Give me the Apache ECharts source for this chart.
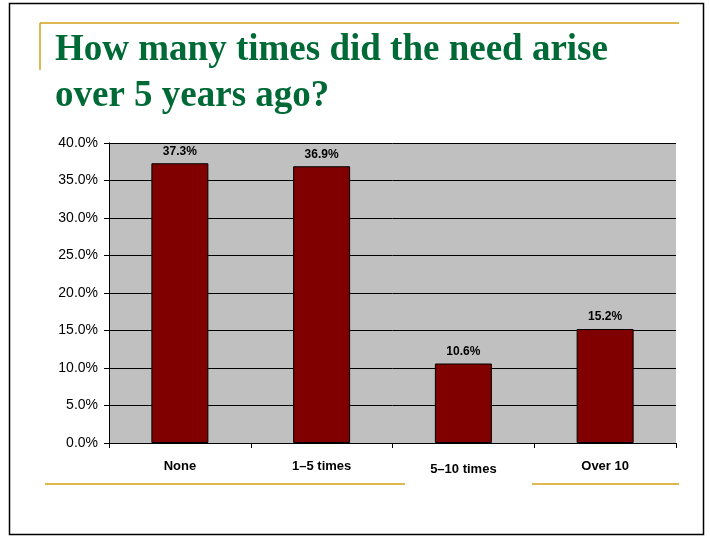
<!DOCTYPE html>
<html><head><meta charset="utf-8">
<script src="https://cdn.jsdelivr.net/npm/echarts@6/dist/echarts.min.js"></script>
<style>html,body{margin:0;padding:0;background:#fff}#c{width:710px;height:537px}</style>
</head><body><div id="c"></div>
<script>
const categories = ['None', '1\u20135 times', '5\u201310 times', 'Over 10'];
const values = [37.3, 36.9, 10.6, 15.2];
const titleLines = ['How many times did the need arise', 'over 5 years ago?'];

const chart = echarts.init(document.getElementById('c'), null, {renderer: 'canvas'});
const gold = '#D4A017';
chart.setOption({
  animation: false,
  backgroundColor: '#fff',
  graphic: [
    {type: 'rect', shape: {x: 9.5, y: 3.5, width: 694, height: 531}, style: {fill: 'none', stroke: '#000', lineWidth: 1.5}},
    {type: 'line', shape: {x1: 40, y1: 23, x2: 679, y2: 23}, style: {stroke: gold, lineWidth: 1.5}},
    {type: 'line', shape: {x1: 40, y1: 23, x2: 40, y2: 70}, style: {stroke: gold, lineWidth: 1.5}},
    {type: 'line', shape: {x1: 45, y1: 484, x2: 405, y2: 484}, style: {stroke: gold, lineWidth: 1.5}},
    {type: 'line', shape: {x1: 532, y1: 484, x2: 679, y2: 484}, style: {stroke: gold, lineWidth: 1.5}},
    {type: 'text', x: 55, y: 32, style: {text: titleLines[0], font: 'bold 37px "Liberation Serif"', fill: '#006A36', verticalAlign: 'top'}},
    {type: 'text', x: 55, y: 78, style: {text: titleLines[1], font: 'bold 37px "Liberation Serif"', fill: '#006A36', verticalAlign: 'top'}}
  ],
  grid: {left: 109, top: 143, width: 567, height: 300, show: true, backgroundColor: '#C0C0C0', borderWidth: 0},
  xAxis: {
    type: 'category', data: categories, boundaryGap: true,
    axisLine: {lineStyle: {color: '#000', width: 1}},
    axisTick: {show: true, length: 5, alignWithLabel: false, lineStyle: {color: '#000'}},
    axisLabel: {
      margin: 17, color: '#000', fontFamily: 'Liberation Sans', fontWeight: 'bold', fontSize: 13,
      formatter: (v, i) => i === 2 ? '{low|' + v + '}' : v,
      rich: {low: {padding: [3, 0, 0, 0], color: '#000', fontFamily: 'Liberation Sans', fontWeight: 'bold', fontSize: 13}}
    }
  },
  yAxis: {
    type: 'value', min: 0, max: 40, interval: 5,
    axisLine: {show: true, lineStyle: {color: '#000', width: 1}},
    axisTick: {show: true, length: 5, lineStyle: {color: '#000'}},
    axisLabel: {margin: 11, color: '#000', fontFamily: 'Liberation Sans', fontSize: 14, formatter: v => v.toFixed(1) + '%'},
    splitLine: {show: true, lineStyle: {color: '#000', width: 1}}
  },
  series: [{
    type: 'bar', data: values, barWidth: 57,
    itemStyle: {color: '#800000', borderColor: '#000', borderWidth: 1},
    label: {show: true, position: 'top', distance: 6, color: '#000', fontFamily: 'Liberation Sans', fontWeight: 'bold', fontSize: 12, formatter: p => p.value.toFixed(1) + '%'}
  }]
});
</script></body></html>
